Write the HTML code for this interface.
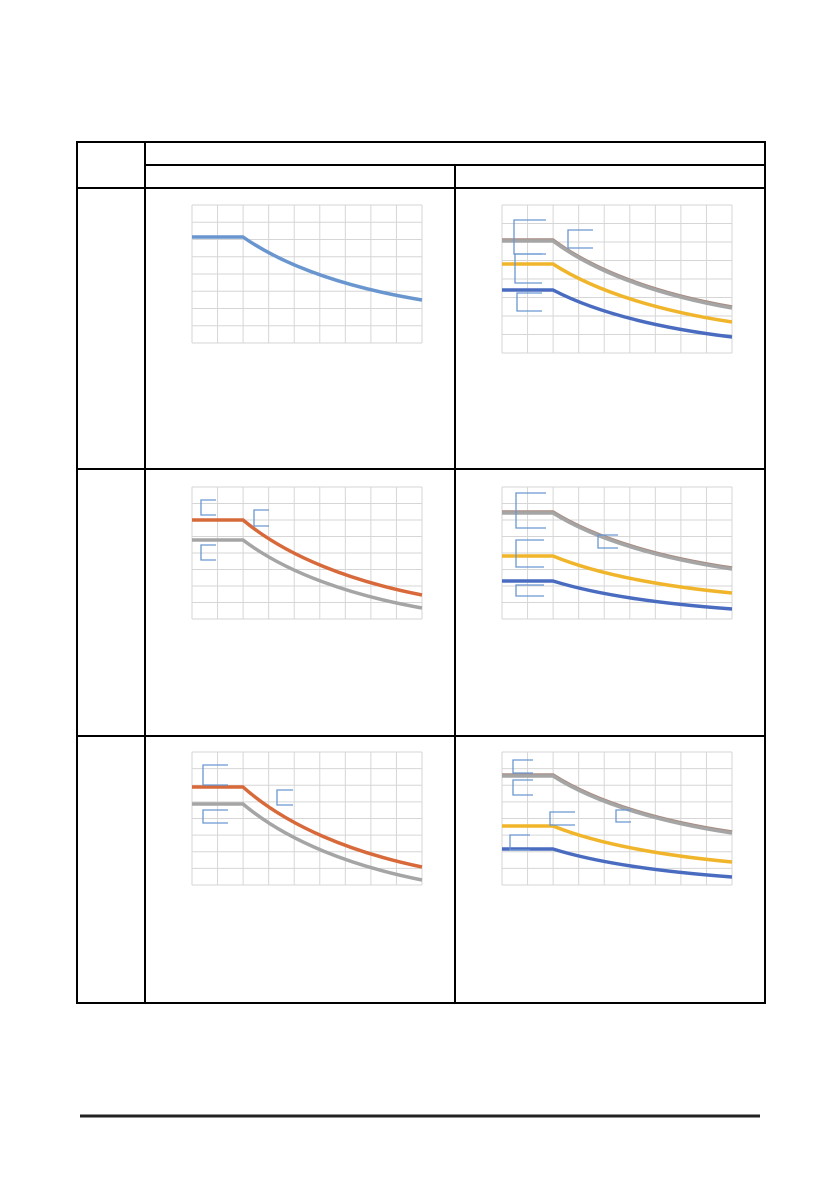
<!DOCTYPE html>
<html><head><meta charset="utf-8"><style>
html,body{margin:0;padding:0;background:#fff;width:840px;height:1190px;overflow:hidden}
</style></head><body>
<svg id="s" width="840" height="1190" xmlns="http://www.w3.org/2000/svg">
<g stroke="#000" stroke-width="2" fill="none">
<rect x="77" y="142" width="688" height="861"/>
<line x1="145" y1="142" x2="145" y2="1003"/>
<line x1="145" y1="165" x2="765" y2="165"/>
<line x1="77" y1="188" x2="765" y2="188"/>
<line x1="455" y1="165" x2="455" y2="1003"/>
<line x1="77" y1="469" x2="765" y2="469"/>
<line x1="77" y1="736" x2="765" y2="736"/>
</g>
<line x1="80" y1="1116" x2="760" y2="1116" stroke="#222" stroke-width="3"/>
</svg>
<script>
var s=document.getElementById('s'),h='';
function grid(x0,y0,x1,y1,c,r){
 h+='<g stroke="#d6d6d6" stroke-width="1" fill="none">';
 for(var i=0;i<=c;i++){var x=x0+(x1-x0)*i/c;h+='<line x1="'+x+'" y1="'+y0+'" x2="'+x+'" y2="'+y1+'"/>';}
 for(var j=0;j<=r;j++){var y=y0+(y1-y0)*j/r;h+='<line x1="'+x0+'" y1="'+y+'" x2="'+x1+'" y2="'+y+'"/>';}
 h+='</g>';}
function cur(x0,x1,ya,ye,col,w){
 var xk=x0+51,d=ye-ya;
 h+='<path d="M'+x0+','+ya+' L'+xk+','+ya+' C'+(xk+45)+','+(ya+d*0.5)+' '+(xk+110)+','+(ye-d*0.18)+' '+x1+','+ye+'" stroke="'+col+'" stroke-width="3.5" fill="none"/>';}
function br(x,y1,y2,len){
 h+='<path d="M'+(x+len)+','+y1+' H'+x+' V'+y2+' H'+(x+len)+'" stroke="#6a96d0" stroke-width="1.3" fill="none"/>';}
var B='#6a96d0',O='#d7693a',G='#a5a5a5',Y='#f0b52a',D='#4a6cc0',BR='#a98c80';
grid(192,205,422,343,9,8);cur(192,422,237,300,B);
grid(502,205,732,353,9,8);cur(502,732,240,307,BR);cur(502,732,241,308,G);cur(502,732,264,322,Y);cur(502,732,290,337,D);
br(514,220,254,32);br(515,254,283,27);br(517,293,311,25);br(568,230,248,25);
grid(192,487,422,619,9,8);cur(192,422,520,595,O);cur(192,422,540,608,G);
br(201,500,515,15);br(201,545,560,15);br(254,510,526,15);
grid(502,487,732,619,9,8);cur(502,732,512,568,BR);cur(502,732,513,569,G);cur(502,732,556,593,Y);cur(502,732,581,609,D);
br(516,493,528,30);br(516,540,567,28);br(516,585,596,28);br(598,535,548,20);
grid(192,752,422,885,9,8);cur(192,422,787,867,O);cur(192,422,804,880,G);
br(203,765,785,25);br(203,810,823,25);br(277,790,805,16);
grid(502,752,732,885,9,8);cur(502,732,775,832,BR);cur(502,732,776,833,G);cur(502,732,826,862,Y);cur(502,732,849,877,D);
br(513,760,773,20);br(513,780,795,20);br(550,812,825,25);br(510,835,850,20);br(616,810,822,15);
s.insertAdjacentHTML('beforeend',h);
</script>
</body></html>
